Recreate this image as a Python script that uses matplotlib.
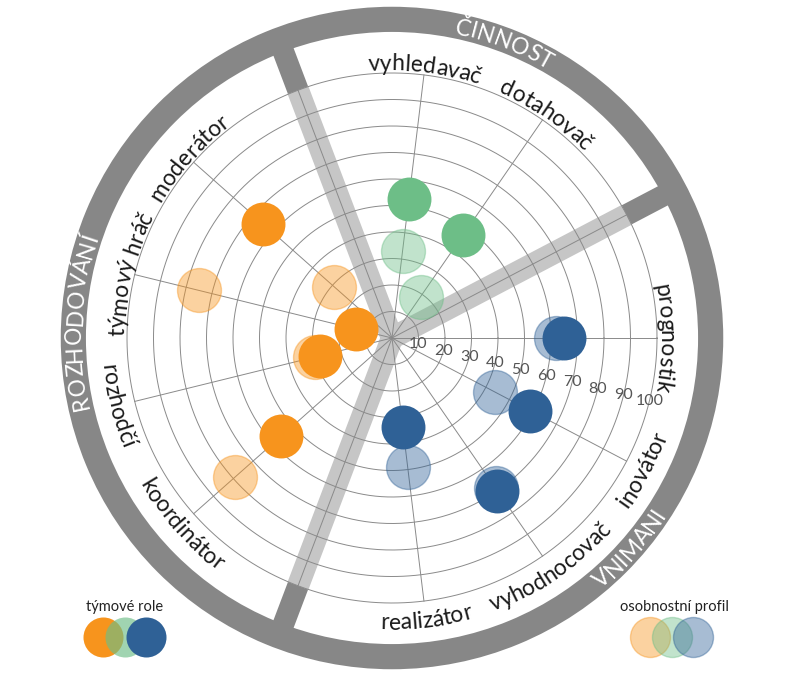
import numpy as np
import matplotlib
matplotlib.use('Agg')
import matplotlib.pyplot as plt
from matplotlib.font_manager import FontProperties, findfont, get_font
from matplotlib.ft2font import LoadFlags

FAM = ['Lato', 'DejaVu Sans']
plt.rcParams['font.family'] = FAM

# roles, slot index on a 13-slot circle (slots 1, 4, 9 hold the separators)
roles = ['prognostik', 'dotahovač', 'vyhledavač', 'moderátor', 'týmový hráč',
         'rozhodčí', 'koordinátor', 'realizátor', 'vyhodnocovač', 'inovátor']
slots = [0, 2, 3, 5, 6, 7, 8, 10, 11, 12]
groups = ['V', 'C', 'C', 'R', 'R', 'R', 'R', 'V', 'V', 'V']
team = [65, 47, 53, 65, 14, 28, 56, 34, 70, 59]        # týmové role
profile = [62, 19, 33, 29, 75, 30, 79, 49, 69, 44]     # osobnostní profil

sections = ['ČINNOST', 'ROZHODOVÁNÍ', 'VNIMANI']
section_angles = [69.2, 177, -41.5]
sep_slots = [1, 4, 9]
ticks = [10, 20, 30, 40, 50, 60, 70, 80, 90, 100]

colors = {'R': '#F7941D', 'C': '#6DBE87', 'V': '#2F6196'}
ring_col = '#878787'
band_col = '#c6c6c6'
grid_col = '#8a8a8a'

STEP = 360.0 / 13
RMAX = 126.0
W, H = 800, 680
cx, cy = 392, 338
ppu = 2.65
rad_px = RMAX * ppu

fig = plt.figure(figsize=(8, 6.8), dpi=100)
ax = fig.add_axes([(cx - rad_px) / W, (H - cy - rad_px) / H,
                   2 * rad_px / W, 2 * rad_px / H], projection='polar')
ax.set_ylim(0, RMAX)
ax.axis('off')


def arc_text(s, theta_c, r_base, size, color, top=True, weight='normal'):
    fp = FontProperties(family=FAM, weight=weight, size=size)
    font = get_font(findfont(fp))
    font.set_size(size, 100)
    adv = []
    for c in s:
        g = font.load_char(ord(c), flags=LoadFlags.NO_HINTING)
        adv.append(g.linearHoriAdvance / 65536)
    total = sum(adv)
    R = r_base * ppu
    pos = 0
    for c, a in zip(s, adv):
        d = pos + a / 2 - total / 2
        pos += a
        if c == ' ':
            continue
        if top:
            th = np.radians(theta_c) - d / R
            rot = np.degrees(th) - 90
        else:
            th = np.radians(theta_c) + d / R
            rot = np.degrees(th) + 90
        ax.text(th, r_base, c, fontproperties=fp, color=color, ha='center',
                va='baseline', rotation=rot, rotation_mode='anchor',
                clip_on=False, zorder=6)


# light bands + dark separators
for k in sep_slots:
    th = np.radians(k * STEP)
    ax.plot([th, th], [0, 100], color=band_col, lw=16, solid_capstyle='butt', zorder=1)
    ax.plot([th, th], [100, 116], color=ring_col, lw=15.5, solid_capstyle='butt', zorder=2)

# outer ring
ax.bar(0, 9.5, width=2 * np.pi, bottom=115.5, color=ring_col, linewidth=0, zorder=2)

# grid
tt = np.linspace(0, 2 * np.pi, 500)
for v in ticks:
    ax.plot(tt, [v] * len(tt), color=grid_col, lw=0.7, zorder=2)
for k in range(13):
    th = np.radians(k * STEP)
    ax.plot([th, th], [0, 100], color=grid_col, lw=0.7, zorder=2)

# tick labels
tick_th = np.radians(-STEP / 2)
for v in ticks:
    ax.text(tick_th, v, str(v), ha='center', va='center', fontsize=11.5,
            color='#555555', zorder=3)

# markers
thetas = np.radians(np.array(slots) * STEP)
for th, p, t, g in zip(thetas, profile, team, groups):
    ax.scatter(th, p, s=1000, color=colors[g], alpha=0.42, edgecolor=colors[g],
               linewidth=1, zorder=4)
    ax.scatter(th, t, s=1000, color=colors[g], linewidth=0, zorder=5)

# role labels
for name, k in zip(roles, slots):
    ang = k * STEP
    if ang > 180:
        ang -= 360
    top = not (ang < -10 or ang > 185)
    if top:
        arc_text(name, ang, 101, 16.5, '#1a1a1a', top=True)
    else:
        arc_text(name, ang, 110, 16.5, '#1a1a1a', top=False)

# section labels on the ring
for name, ang in zip(sections, section_angles):
    if ang > 0:
        arc_text(name, ang, 117.2, 16.5, 'white', top=True)
    else:
        arc_text(name, ang, 123.2, 16.5, 'white', top=False)

# legends
ov = fig.add_axes([0, 0, 1, 1])
ov.set_xlim(0, W)
ov.set_ylim(H, 0)
ov.axis('off')
leg_x1 = [103, 125, 146]
leg_x2 = [650, 672, 693]
for x, g in zip(leg_x1, ['R', 'C', 'V']):
    ov.scatter(x, 637, s=830, color=colors[g], alpha=0.65 if g == 'C' else 1,
               linewidth=0)
for x, g in zip(leg_x2, ['R', 'C', 'V']):
    ov.scatter(x, 637, s=830, color=colors[g], alpha=0.42, edgecolor=colors[g],
               linewidth=1)
ov.text(125, 607, 'týmové role', ha='center', va='center', fontsize=10.5,
        color='#222222')
ov.text(674, 607, 'osobnostní profil', ha='center', va='center', fontsize=10.5,
        color='#222222')

fig.savefig('out.png', dpi=100)
